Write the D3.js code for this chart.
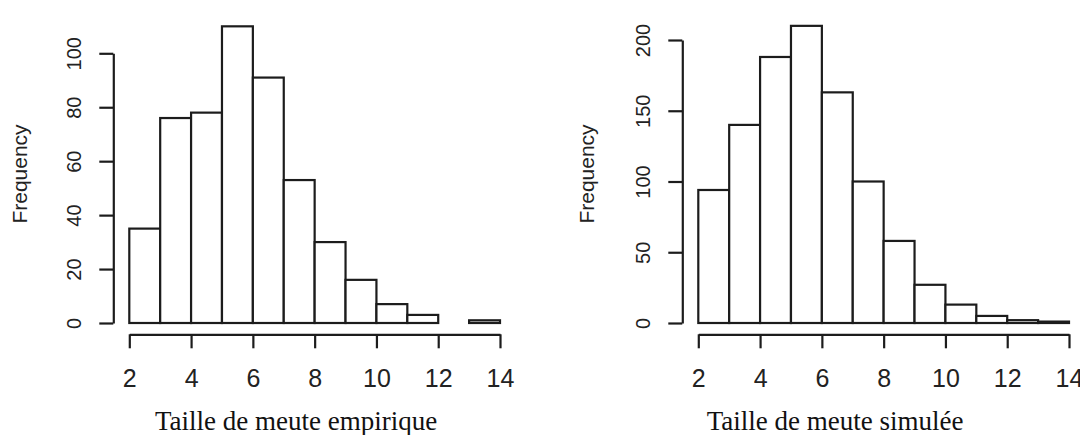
<!DOCTYPE html>
<html>
<head>
<meta charset="utf-8">
<script src="https://cdn.jsdelivr.net/npm/d3@7"></script>
<style>
  html, body { margin: 0; padding: 0; background: #ffffff; }
  svg { display: block; }
</style>
</head>
<body>
<svg id="chart" width="1080" height="435"></svg>
<script>
// ---- data ----
const binEdges = [2, 3, 4, 5, 6, 7, 8, 9, 10, 11, 12, 13, 14];
const empiricalCounts = [35, 76, 78, 110, 91, 53, 30, 16, 7, 3, 0, 1];
const simulatedCounts = [94, 140, 188, 210, 163, 100, 58, 27, 13, 5, 2, 1];
const xTickValues = [2, 4, 6, 8, 10, 12, 14];
const yTicksEmpirical = [0, 20, 40, 60, 80, 100];
const yTicksSimulated = [0, 50, 100, 150, 200];
const yLabel = "Frequency";
const titles = ["Taille de meute empirique", "Taille de meute simulée"];

const svg = d3.select("#chart");
const ink = "#1c1c1c";

function panel(cfg) {
  const g = svg.append("g").attr("transform", `translate(${cfg.dx},0)`);
  const x = d3.scaleLinear().domain([2, 14]).range([129.3, 500]);
  const y = d3.scaleLinear().domain([0, cfg.yMax]).range([323, cfg.yTopPx]);

  const bins = cfg.counts.map((c, i) => ({ x0: binEdges[i], x1: binEdges[i + 1], c }));

  g.selectAll("rect.bar").data(bins).join("rect")
    .attr("class", "bar")
    .attr("x", d => x(d.x0))
    .attr("y", d => y(d.c))
    .attr("width", d => x(d.x1) - x(d.x0))
    .attr("height", d => y(0) - y(d.c))
    .attr("fill", "#ffffff")
    .attr("stroke", ink)
    .attr("stroke-width", 2.2);

  // x axis
  const xAxis = g.append("g").attr("transform", "translate(0,334.3)")
    .call(d3.axisBottom(x).tickValues(xTickValues).tickSize(14).tickSizeOuter(0).tickFormat(d3.format("d")));
  xAxis.selectAll("path, line").attr("stroke", ink).attr("stroke-width", 2.2);
  xAxis.selectAll("text")
    .attr("y", 52.7).attr("dy", 0)
    .attr("fill", "#222")
    .style("font-family", "'Liberation Sans', Arial, sans-serif")
    .style("font-size", "25px");

  // y axis
  const yAxis = g.append("g").attr("transform", "translate(113.3,0)")
    .call(d3.axisLeft(y).tickValues(cfg.yTicks).tickSize(14).tickSizeOuter(0).tickFormat(d3.format("d")));
  yAxis.selectAll("path, line").attr("stroke", ink).attr("stroke-width", 2.2);
  yAxis.selectAll("text")
    .attr("x", 0).attr("dy", 0)
    .attr("text-anchor", "middle")
    .attr("transform", "translate(-32,0) rotate(-90)")
    .attr("fill", "#222")
    .style("font-family", "'Liberation Sans', Arial, sans-serif")
    .style("font-size", "20px");

  // y label
  g.append("text")
    .attr("transform", `translate(${cfg.ylabX},174) rotate(-90)`)
    .attr("text-anchor", "middle")
    .attr("fill", "#222")
    .style("font-family", "'Liberation Sans', Arial, sans-serif")
    .style("font-size", "21px")
    .text(yLabel);

  // title (x label)
  svg.append("text")
    .attr("x", cfg.titleX).attr("y", 430)
    .attr("fill", "#111")
    .style("font-family", "'Liberation Serif', 'Times New Roman', serif")
    .style("font-size", "27px")
    .text(cfg.title);
}

panel({ dx: 0, counts: empiricalCounts, yMax: 100, yTopPx: 53.3, yTicks: yTicksEmpirical, ylabX: 27, titleX: 155, title: titles[0] });
panel({ dx: 569, counts: simulatedCounts, yMax: 200, yTopPx: 40, yTicks: yTicksSimulated, ylabX: 25, titleX: 706.7, title: titles[1] });
</script>
</body>
</html>
